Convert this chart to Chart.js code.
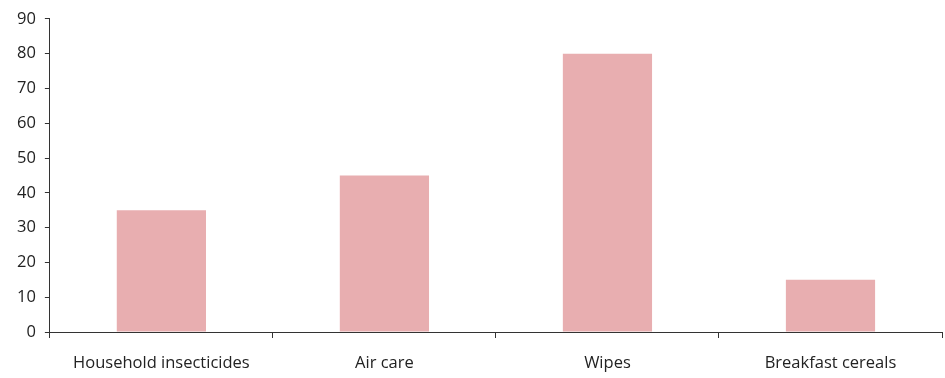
<!DOCTYPE html>
<html>
<head>
<meta charset="utf-8">
<script src="https://cdn.jsdelivr.net/npm/chart.js@4/dist/chart.umd.min.js"></script>
<style>
  html, body { margin: 0; padding: 0; background: #fff; overflow: hidden; }
  canvas { display: block; }
</style>
</head>
<body>
<canvas id="c" width="945" height="378"></canvas>
<script>
const categories = ["Household insecticides", "Air care", "Wipes", "Breakfast cereals"];
const values = [35, 45, 80, 15];
const yMin = 0, yMax = 90, yStep = 10;

const axisColor = "#333333";
const textColor = "#222222";
const fontSpec = { family: "'Open Sans', 'Noto Sans', sans-serif", size: 16.5 };

new Chart(document.getElementById("c"), {
  type: "bar",
  data: {
    labels: categories,
    datasets: [{
      data: values,
      backgroundColor: "#E8AEB0",
      borderWidth: 0,
      barPercentage: 0.4,
      categoryPercentage: 1.0
    }]
  },
  options: {
    responsive: false,
    animation: false,
    layout: { padding: { top: 9, right: 3, left: 8, bottom: 0 } },
    plugins: { legend: { display: false }, tooltip: { enabled: false } },
    scales: {
      x: {
        offset: true,
        afterFit: (scale) => { scale.height = 46; },
        grid: {
          offset: true,
          drawOnChartArea: false,
          drawTicks: true,
          tickLength: 6,
          color: axisColor,
          lineWidth: 1
        },
        border: { display: true, color: axisColor, width: 1 },
        ticks: { color: textColor, font: fontSpec, padding: 15, maxRotation: 0 }
      },
      y: {
        min: yMin,
        max: yMax,
        grid: {
          drawOnChartArea: false,
          drawTicks: true,
          tickLength: 5,
          color: axisColor,
          lineWidth: 1
        },
        border: { display: true, color: axisColor, width: 1 },
        ticks: { stepSize: yStep, color: textColor, font: fontSpec, padding: 9 }
      }
    }
  }
});
</script>
</body>
</html>
